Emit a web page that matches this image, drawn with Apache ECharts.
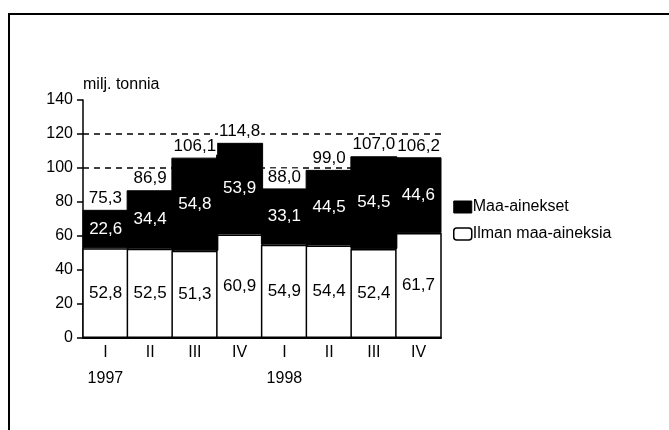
<!DOCTYPE html>
<html>
<head>
<meta charset="utf-8">
<script src="https://cdn.jsdelivr.net/npm/echarts@6/dist/echarts.min.js"></script>
<style>
  html, body { margin: 0; padding: 0; background: #fff; }
  #chart { width: 669px; height: 430px; }
</style>
</head>
<body>
<div id="chart"></div>
<script>
const quarters = ['I', 'II', 'III', 'IV', 'I', 'II', 'III', 'IV']
const years = ['1997', '', '', '', '1998', '', '', '']
const ilmanMaa = [52.8, 52.5, 51.3, 60.9, 54.9, 54.4, 52.4, 61.7]
const maaAinekset = [22.6, 34.4, 54.8, 53.9, 33.1, 44.5, 54.5, 44.6]
const totals = [75.3, 86.9, 106.1, 114.8, 88.0, 99.0, 107.0, 106.2]

const FONT = 'Liberation Sans, Arial, Helvetica, sans-serif'

function fmt(v) {
  return Number(v).toFixed(1).replace('.', ',')
}

const categories = quarters.map((q, i) => years[i] ? q + '\n' + years[i] : q)

const chart = echarts.init(document.getElementById('chart'), null, { renderer: 'canvas' })

chart.setOption({
  animation: false,
  textStyle: { fontFamily: FONT, color: '#000' },
  graphic: [
    {
      type: 'rect',
      shape: { x: 9, y: 14, width: 700, height: 500 },
      style: { fill: 'none', stroke: '#000', lineWidth: 2 },
      silent: true
    }
  ],
  grid: { left: 83, top: 100, width: 358, height: 238 },
  legend: {
    orient: 'vertical',
    left: 448,
    top: 194,
    itemWidth: 18,
    itemHeight: 12,
    itemGap: 11,
    textStyle: { fontSize: 16, color: '#000', fontFamily: FONT, padding: [0, 0, 0, -4] },
    data: [
      { name: 'Maa-ainekset', icon: 'rect', itemStyle: { color: '#000', borderColor: '#000', borderWidth: 1 } },
      { name: 'Ilman maa-aineksia', icon: 'roundRect', itemStyle: { color: '#fff', borderColor: '#000', borderWidth: 1.5 } }
    ]
  },
  xAxis: {
    type: 'category',
    data: categories,
    axisLine: { lineStyle: { color: '#000', width: 2 } },
    axisTick: { show: false },
    axisLabel: {
      interval: 0,
      color: '#000',
      fontSize: 16,
      fontFamily: FONT,
      margin: 2,
      lineHeight: 26
    }
  },
  yAxis: {
    type: 'value',
    min: 0,
    max: 140,
    interval: 20,
    name: 'milj. tonnia',
    nameLocation: 'end',
    nameGap: 7,
    nameTextStyle: { color: '#000', fontSize: 16, fontFamily: FONT, align: 'left' },
    axisLine: { show: true, lineStyle: { color: '#000', width: 1.5 } },
    axisTick: { show: true, length: 6, lineStyle: { color: '#000', width: 1.5 } },
    axisLabel: { color: '#000', fontSize: 16, fontFamily: FONT, margin: 10 },
    splitLine: {
      show: true,
      lineStyle: {
        type: [6, 5],
        width: 1.5,
        color: ['rgba(0,0,0,0)', 'rgba(0,0,0,0)', 'rgba(0,0,0,0)', 'rgba(0,0,0,0)',
          'rgba(0,0,0,0)', '#000', '#000', 'rgba(0,0,0,0)']
      }
    }
  },
  series: [
    {
      name: 'Ilman maa-aineksia',
      type: 'bar',
      stack: 'total',
      barWidth: '105%',
      data: ilmanMaa,
      itemStyle: { color: '#fff', borderColor: '#000', borderWidth: 1.5 },
      label: {
        show: true,
        position: 'inside',
        color: '#000',
        fontSize: 17,
        fontFamily: FONT,
        formatter: p => fmt(p.value)
      }
    },
    {
      name: 'Maa-ainekset',
      type: 'bar',
      stack: 'total',
      barWidth: '105%',
      data: maaAinekset,
      itemStyle: { color: '#000', borderColor: '#000', borderWidth: 1 },
      label: {
        show: true,
        position: 'inside',
        color: '#fff',
        fontSize: 17,
        fontFamily: FONT,
        formatter: p => fmt(p.value)
      }
    },
    {
      name: 'Yhteensä',
      type: 'scatter',
      data: totals,
      symbolSize: 0,
      itemStyle: { color: '#000', opacity: 1 },
      z: 5,
      label: {
        show: true,
        position: 'top',
        distance: 3,
        color: '#000',
        fontSize: 17,
        fontFamily: FONT,
        backgroundColor: '#fff',
        padding: [0, 1, 0, 1],
        formatter: p => fmt(p.value)
      }
    }
  ]
})
</script>
</body>
</html>
